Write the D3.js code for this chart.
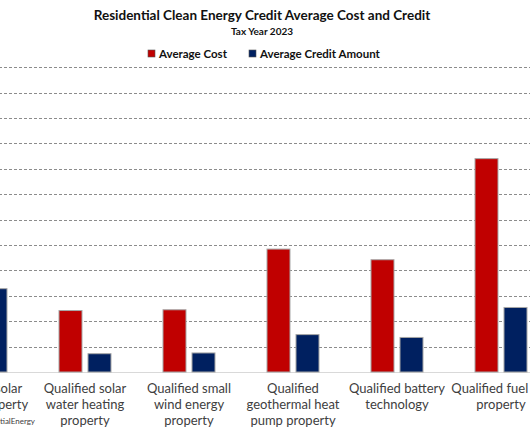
<!DOCTYPE html>
<html>
<head>
<meta charset="utf-8">
<script src="https://cdn.jsdelivr.net/npm/d3@7/dist/d3.min.js"></script>
<style>
  html, body { margin: 0; padding: 0; background: #fff; overflow: hidden; }
  svg { display: block; font-family: Lato, "Open Sans", sans-serif; }
</style>
</head>
<body>
<svg id="chart" width="530" height="442"></svg>
<script>
// Data (dollars)
const categories = [
  "Qualified solar electric property",
  "Qualified solar water heating property",
  "Qualified small wind energy property",
  "Qualified geothermal heat pump property",
  "Qualified battery technology",
  "Qualified fuel cell property"
];
const categoryLines = [
  ["Qualified solar", "electric property"],
  ["Qualified solar", "water heating", "property"],
  ["Qualified small", "wind energy", "property"],
  ["Qualified", "geothermal heat", "pump property"],
  ["Qualified battery", "technology"],
  ["Qualified fuel cell", "property"]
];
const seriesNames = ["Average Cost", "Average Credit Amount"];
const averageCost   = [27000, 6050, 6125, 12100, 11050, 21000];
const averageCredit = [8200, 1800, 1875, 3680, 3400, 6350];
const yTicks = [0, 2500, 5000, 7500, 10000, 12500, 15000, 17500, 20000, 22500, 25000, 27500, 30000];
const colors = ["#C00000", "#002060"];

const svg = d3.select("#chart");

// Title
svg.append("text").attr("x", 262).attr("y", 20).attr("text-anchor", "middle")
  .attr("font-size", 13.5).attr("font-weight", "bold").attr("fill", "#111")
  .text("Residential Clean Energy Credit Average Cost and Credit");
svg.append("text").attr("x", 262).attr("y", 35).attr("text-anchor", "middle")
  .attr("font-size", 10).attr("font-weight", "bold").attr("fill", "#111")
  .text("Tax Year 2023");

// Scales (plot area wider than the visible window, as in the reference crop)
const x = d3.scaleBand().domain(categories).range([-71, 553]).padding(0);
const xSub = d3.scaleBand().domain(seriesNames).range([26, 78]).paddingInner(0.207);
const y = d3.scaleLinear().domain([0, 30000]).range([372, 67.2]);

// Gridlines
const grid = svg.append("g");
grid.selectAll("line").data(yTicks.filter(t => t > 0)).join("line")
  .attr("x1", -71).attr("x2", 553)
  .attr("y1", d => Math.round(y(d)) + 0.5).attr("y2", d => Math.round(y(d)) + 0.5)
  .attr("stroke", "#8c8c8c").attr("stroke-width", 1).attr("stroke-dasharray", "3,2");

// Baseline
svg.append("line").attr("x1", -71).attr("x2", 553)
  .attr("y1", y(0) + 0.5).attr("y2", y(0) + 0.5)
  .attr("stroke", "#d9d9d9").attr("stroke-width", 1);

// Bars
const rows = categories.map((c, i) => ({ cat: c, vals: [averageCost[i], averageCredit[i]] }));
const groups = svg.append("g").selectAll("g").data(rows).join("g")
  .attr("transform", d => `translate(${x(d.cat)},0)`);
groups.selectAll("rect").data(d => d.vals.map((v, j) => ({ s: seriesNames[j], v, j }))).join("rect")
  .attr("x", d => xSub(d.s)).attr("width", xSub.bandwidth())
  .attr("y", d => y(d.v)).attr("height", d => y(0) - y(d.v))
  .attr("fill", d => colors[d.j]).attr("stroke", "#a6a6a6").attr("stroke-width", 1);

// Category labels
const labels = svg.append("g").selectAll("text").data(categories).join("text")
  .attr("text-anchor", "middle").attr("font-size", 13).attr("fill", "#404040")
  .attr("x", d => x(d) + x.bandwidth() / 2).attr("y", 393);
labels.each(function(d, i) {
  d3.select(this).selectAll("tspan").data(categoryLines[i]).join("tspan")
    .attr("x", x(d) + x.bandwidth() / 2).attr("dy", (t, k) => k === 0 ? 0 : 16).text(t => t);
});

// Legend
const legend = svg.append("g").attr("transform", "translate(0,54)");
const legendX = [148, 249];
seriesNames.forEach((s, i) => {
  legend.append("rect").attr("x", legendX[i]).attr("y", -4).attr("width", 7).attr("height", 7)
    .attr("fill", colors[i]).attr("stroke", "#555").attr("stroke-width", 0.6);
  legend.append("text").attr("x", legendX[i] + 11).attr("y", 4)
    .attr("font-size", 11.5).attr("font-weight", "bold").attr("fill", "#111").text(s);
});

// Source note (cropped in the reference)
svg.append("text").attr("x", 35).attr("y", 424).attr("text-anchor", "end")
  .attr("font-size", 8).attr("fill", "#404040").text("Source: IRS Form 5695, ResidentialEnergy");
</script>
</body>
</html>
